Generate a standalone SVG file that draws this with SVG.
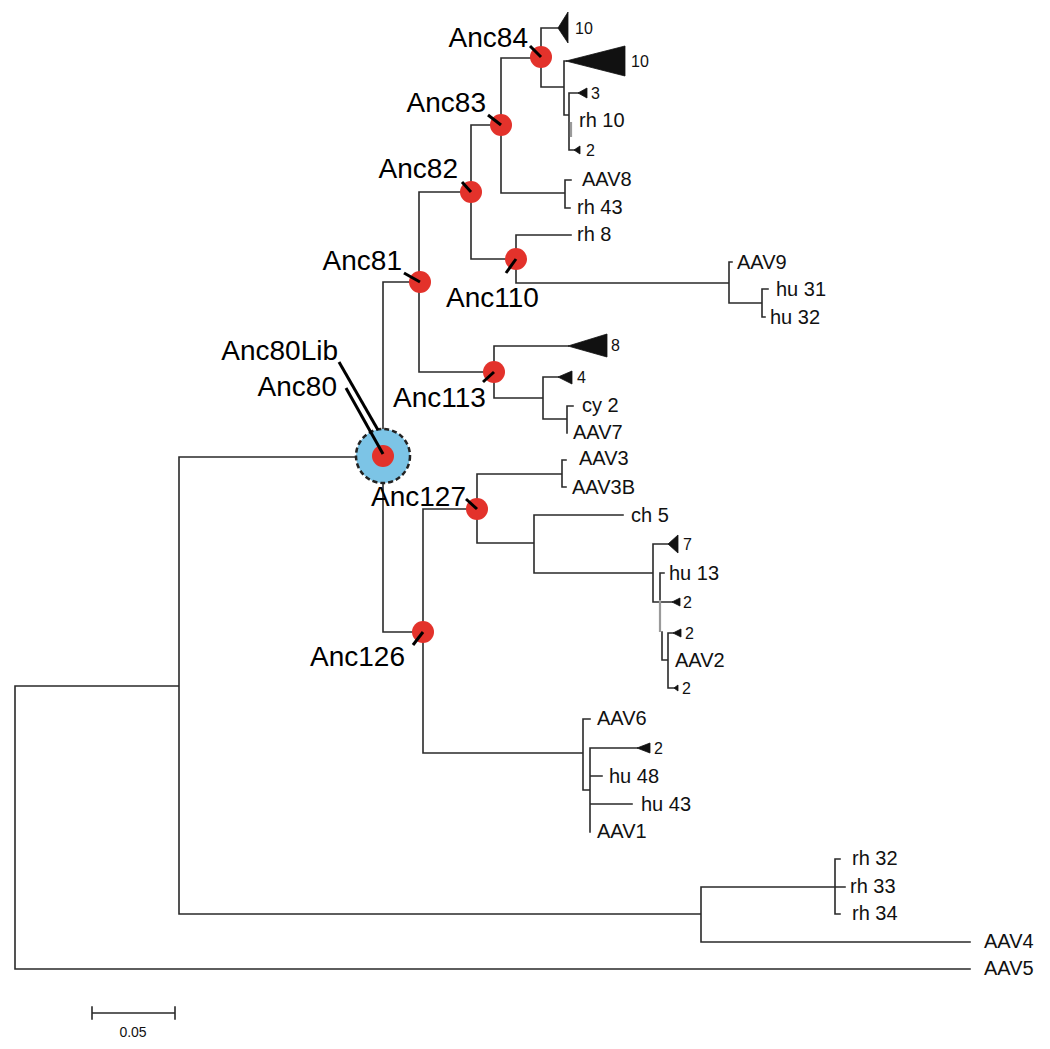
<svg xmlns="http://www.w3.org/2000/svg" width="1050" height="1049" viewBox="0 0 1050 1049">
<defs>
<style>
.br{fill:none;stroke:#2a2a2a;stroke-width:1.6;stroke-linecap:square}
.gr{fill:none;stroke:#9a9a9a;stroke-width:2.2}
.tri{fill:#111;stroke:#111;stroke-width:0.8}
.ptr{stroke:#000;stroke-width:3;stroke-linecap:butt}
.anc{fill:#e3322b}
.lab{font-family:"Liberation Sans",Arial,sans-serif;font-size:20px;fill:#111}
.num{font-family:"Liberation Sans",Arial,sans-serif;font-size:16px;fill:#111}
.big{font-family:"Liberation Sans",Arial,sans-serif;font-size:28px;fill:#000}
.sc{font-family:"Liberation Sans",Arial,sans-serif;font-size:14px;fill:#111}
</style>
</defs>
<rect width="1050" height="1049" fill="#fff"/>
<g id="connectors">
<path class="br" d="M15,686V969M15,686H179M15,969H970
M179,457V914M179,457H360M179,914H701
M701,887V942M701,887H835M701,942H970
M835,859V914M835,859H840M835,887H845M835,914H840
M383,282V632M383,282H419M383,632H423
M419,192V372M419,192H471M419,372H494
M471,125V259M471,125H501M471,259H516
M501,58V193M501,58H541M501,193H565
M541,28V87M541,28H558M541,87H564
M564,61V115M564,61H566M564,115H569
M569,93V150M569,93H578M569,150H574
M565,180V208M565,180H571M565,208H570
M516,235V283M516,235H571M516,283H729
M729,262V303M729,262H732M729,303H762
M762,289V317M762,289H768M762,317H765
M494,346V398M494,346H568M494,398H543
M543,377V419M543,377H558M543,419H567
M567,406V433M567,406H573
M423,509V753M423,509H477M423,753H583
M477,474V543M477,474H562M477,543H534
M562,460V487M562,460H566M562,487H566
M534,515V573M534,515H623M534,573H653
M653,544V602M653,544H668M653,602H660
M660,573V600M660,573H664M660,602H672
M662,632V660H668
M668,633V688M668,633H673M668,688H674
M583,719V790M583,719H590M583,790H590
M590,748V832M590,748H637M590,776H602M590,804H632"/>
<path class="gr" d="M571,122V137M660,600V632"/>
<polygon class="tri" points="558,28 568,12 568,43"/>
<polygon class="tri" points="566,61 625,46 625,76"/>
<polygon class="tri" points="578,93 587,88 587,98"/>
<polygon class="tri" points="574,150 580,146 580,154"/>
<polygon class="tri" points="568,346 607,334 607,357"/>
<polygon class="tri" points="558,377 572,371 572,384"/>
<polygon class="tri" points="668,544 678,535 678,553"/>
<polygon class="tri" points="672,602 680,598 680,606"/>
<polygon class="tri" points="673,633 681,629 681,637"/>
<polygon class="tri" points="674,688 678,685 678,691"/>
<polygon class="tri" points="637,748 650,743 650,753"/>
</g>
<g id="Anc80">
<circle cx="383" cy="456" r="27" fill="#7cc4e6" stroke="#222" stroke-width="2.5" stroke-dasharray="5,3"/>
<circle class="anc" cx="383" cy="456" r="11"/>
<line class="ptr" x1="339" y1="362" x2="378" y2="430"/>
<line class="ptr" x1="346" y1="388" x2="383" y2="454"/>
<text class="big" x="338" y="360" text-anchor="end">Anc80Lib</text>
<text class="big" x="337" y="396" text-anchor="end">Anc80</text>
</g>
<g id="Anc81"><circle class="anc" cx="420" cy="282" r="11"/><line class="ptr" x1="404" y1="273" x2="420" y2="282"/><text class="big" x="402" y="270" text-anchor="end">Anc81</text></g>
<g id="Anc82"><circle class="anc" cx="471" cy="192" r="11"/><line class="ptr" x1="462" y1="182" x2="471" y2="192"/><text class="big" x="458" y="178" text-anchor="end">Anc82</text></g>
<g id="Anc83"><circle class="anc" cx="501" cy="125" r="11"/><line class="ptr" x1="488" y1="115" x2="501" y2="125"/><text class="big" x="486" y="112" text-anchor="end">Anc83</text></g>
<g id="Anc84"><circle class="anc" cx="541" cy="57" r="11"/><line class="ptr" x1="530" y1="46" x2="541" y2="57"/><text class="big" x="528" y="47" text-anchor="end">Anc84</text></g>
<g id="Anc110"><circle class="anc" cx="516" cy="259" r="11"/><line class="ptr" x1="506" y1="273" x2="516" y2="259"/><text class="big" x="446" y="307">Anc110</text></g>
<g id="Anc113"><circle class="anc" cx="494" cy="372" r="11"/><line class="ptr" x1="483" y1="382" x2="494" y2="372"/><text class="big" x="393" y="407">Anc113</text></g>
<g id="Anc127"><circle class="anc" cx="477" cy="509" r="11"/><line class="ptr" x1="466" y1="499" x2="477" y2="509"/><text class="big" x="466" y="506" text-anchor="end">Anc127</text></g>
<g id="Anc126"><circle class="anc" cx="423" cy="632" r="11"/><line class="ptr" x1="413" y1="645" x2="423" y2="632"/><text class="big" x="405" y="666" text-anchor="end">Anc126</text></g>
<g id="leaves">
<text class="num" x="575" y="34">10</text>
<text class="num" x="631" y="67">10</text>
<text class="num" x="591" y="99">3</text>
<text class="lab" x="579" y="127">rh 10</text>
<text class="num" x="586" y="156">2</text>
<text class="lab" x="582" y="186">AAV8</text>
<text class="lab" x="577" y="214">rh 43</text>
<text class="lab" x="577" y="241">rh 8</text>
<text class="lab" x="737" y="269">AAV9</text>
<text class="lab" x="776" y="296">hu 31</text>
<text class="lab" x="770" y="324">hu 32</text>
<text class="num" x="611" y="351">8</text>
<text class="num" x="577" y="383">4</text>
<text class="lab" x="582" y="412">cy 2</text>
<text class="lab" x="573" y="439">AAV7</text>
<text class="lab" x="579" y="465">AAV3</text>
<text class="lab" x="572" y="494">AAV3B</text>
<text class="lab" x="631" y="522">ch 5</text>
<text class="num" x="683" y="550">7</text>
<text class="lab" x="669" y="580">hu 13</text>
<text class="num" x="683" y="608">2</text>
<text class="num" x="685" y="639">2</text>
<text class="lab" x="675" y="667">AAV2</text>
<text class="num" x="682" y="694">2</text>
<text class="lab" x="597" y="725">AAV6</text>
<text class="num" x="654" y="754">2</text>
<text class="lab" x="609" y="783">hu 48</text>
<text class="lab" x="641" y="811">hu 43</text>
<text class="lab" x="597" y="838">AAV1</text>
<text class="lab" x="852" y="865">rh 32</text>
<text class="lab" x="850" y="893">rh 33</text>
<text class="lab" x="852" y="920">rh 34</text>
<text class="lab" x="984" y="948">AAV4</text>
<text class="lab" x="984" y="975">AAV5</text>
</g>
<g id="scalebar">
<path class="br" d="M92,1013H175M92,1007V1019M175,1007V1019"/>
<text class="sc" x="133" y="1037" text-anchor="middle">0.05</text>
</g>
</svg>
